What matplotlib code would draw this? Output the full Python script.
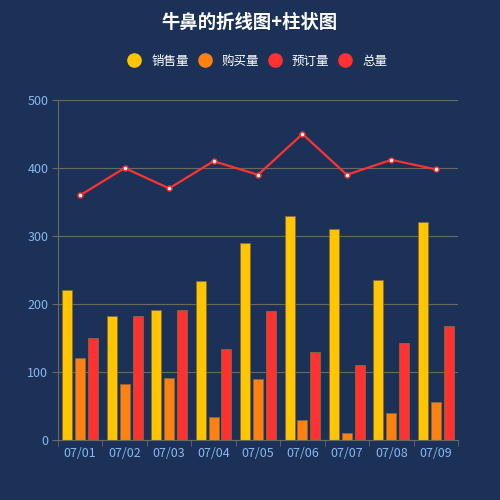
import matplotlib
matplotlib.use("Agg")
import matplotlib.pyplot as plt
import numpy as np
from matplotlib.lines import Line2D

plt.rcParams['font.family'] = ['Noto Sans CJK SC', 'DejaVu Sans']

dates = ['07/01', '07/02', '07/03', '07/04', '07/05', '07/06', '07/07', '07/08', '07/09']
sales = [220, 182, 191, 234, 290, 330, 310, 236, 321]
bought = [120, 82, 91, 34, 90, 30, 10, 40, 56]
booked = [150, 182, 191, 134, 190, 130, 110, 143, 167]
total = [360, 400, 370, 410, 390, 450, 390, 412, 398]

BG = '#1b3157'
TICK = '#8ab8ee'
GRID = '#6b6a60'
colors = ['#ffc600', '#ff8112', '#ff3131']
names = ['销售量', '购买量', '预订量']

fig = plt.figure(figsize=(5, 5), dpi=100, facecolor=BG)
ax = fig.add_axes([0.116, 0.12, 0.8, 0.68], facecolor=BG)

x = np.arange(len(dates))
w = 0.225
step = 0.29
for i, (vals, c) in enumerate(zip([sales, bought, booked], colors)):
    ax.bar(x + (i - 1) * step, vals, width=w, color=c, edgecolor='#8a6a3a',
           linewidth=0.6, zorder=2)

ax.plot(x, total, color='#ff3131', lw=1.6, marker='o', ms=3.5,
        markerfacecolor='white', markeredgecolor='#ff3131', markeredgewidth=1, zorder=3)

ax.set_xlim(-0.5, len(dates) - 0.5)
ax.set_ylim(0, 500)
ax.set_yticks(range(0, 501, 100))
ax.set_xticks(x)
ax.set_xticklabels(dates)
ax.set_xticks(np.arange(-0.5, len(dates), 1), minor=True)
ax.tick_params(axis='x', which='major', length=0, colors=TICK, labelsize=9, pad=5)
ax.tick_params(axis='x', which='minor', length=4, color=GRID)
ax.tick_params(axis='y', length=4, color=GRID, colors=TICK, labelsize=9, pad=3)
ax.grid(axis='y', color=GRID, lw=0.8, zorder=0)
for s in ['top', 'right']:
    ax.spines[s].set_visible(False)
for s in ['left', 'bottom']:
    ax.spines[s].set_color(GRID)

fig.text(0.5, 0.955, '牛鼻的折线图+柱状图', ha='center', va='center',
         color='white', fontsize=13.2, fontweight='bold')

handles = [Line2D([], [], marker='o', ls='', color=c, ms=9.5) for c in colors]
handles.append(Line2D([], [], marker='o', ls='', color='#ff3131', ms=9.5))
labels = names + ['总量']
leg = fig.legend(handles, labels, loc='center', bbox_to_anchor=(0.514, 0.878), ncol=4,
                 frameon=False, handletextpad=0.75, columnspacing=0.68,
                 handlelength=1.2, fontsize=9)
for t in leg.get_texts():
    t.set_color('white')

fig.savefig('out.png', facecolor=BG)
